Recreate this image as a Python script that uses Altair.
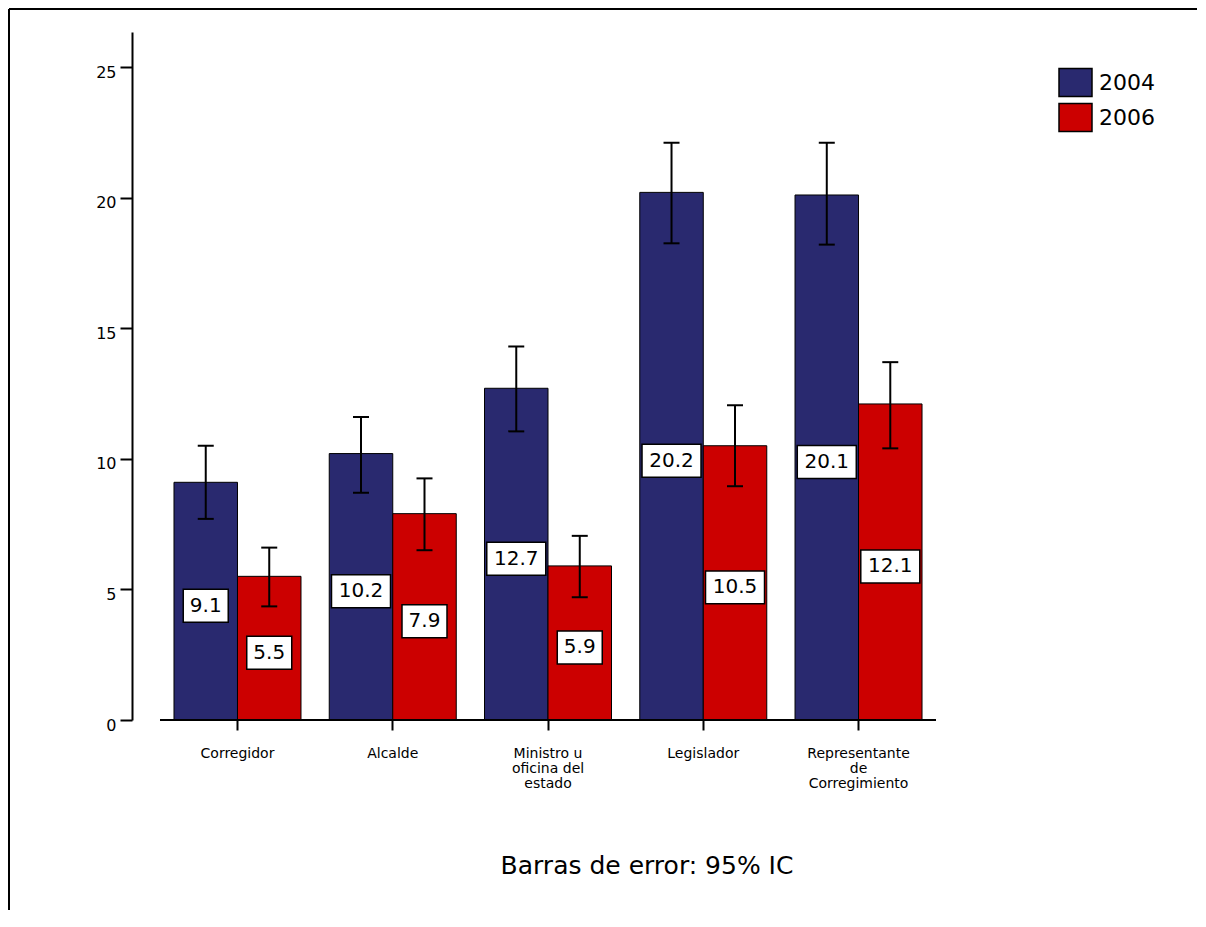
import altair as alt
import pandas as pd

categories = ["Corregidor", "Alcalde", "Ministro u\noficina del\nestado",
              "Legislador", "Representante\nde\nCorregimiento"]
years = ["2004", "2006"]
values_2004 = [9.1, 10.2, 12.7, 20.2, 20.1]
values_2006 = [5.5, 7.9, 5.9, 10.5, 12.1]
lower_2004 = [7.7, 8.7, 11.05, 18.25, 18.2]
upper_2004 = [10.5, 11.6, 14.3, 22.1, 22.1]
lower_2006 = [4.35, 6.5, 4.7, 8.95, 10.4]
upper_2006 = [6.6, 9.25, 7.05, 12.05, 13.7]
y_ticks = [0, 5, 10, 15, 20, 25]
footer = "Barras de error: 95% IC"
colors = ["#29296F", "#CC0000"]

rows = []
for yr, vals, los, his in [("2004", values_2004, lower_2004, upper_2004),
                           ("2006", values_2006, lower_2006, upper_2006)]:
    for c, v, lo, hi in zip(categories, vals, los, his):
        rows.append(dict(cargo=c, year=yr, value=v, lo=lo, hi=hi,
                         half=v / 2, label=f"{v:.1f}"))
df = pd.DataFrame(rows)

FONT = "DejaVu Sans"
W, H = 803, 688

x_axis = alt.Axis(title=None, domain=False, ticks=True, tickSize=10, tickWidth=2,
                  tickColor="black", labelAngle=0, labelFont=FONT, labelFontSize=14,
                  labelColor="black", labelLineHeight=15, labelPadding=16,
                  labelLimit=300, labelExpr="split(datum.label, '\\n')")
x_enc = alt.X("cargo:N", sort=categories, axis=x_axis,
              scale=alt.Scale(paddingInner=0.182, paddingOuter=0.177, align=0.764, round=False))
xo_enc = alt.XOffset("year:N", sort=years, scale=alt.Scale(paddingInner=0, paddingOuter=0))
y_axis = alt.Axis(title=None, values=y_ticks, grid=False, domainColor="black", domainWidth=2,
                  tickColor="black", tickWidth=2, tickSize=12, labelFont=FONT,
                  labelFontSize=16, labelColor="black", labelPadding=4, labelOffset=5)
y_scale = alt.Scale(domain=[0, 26.34], nice=False, zero=True)

base = alt.Chart(df)

legend_sym = "M-1,-0.85H1V0.85H-1Z"
bars = base.mark_bar(stroke="black", strokeWidth=1, opacity=1).encode(
    x=x_enc, xOffset=xo_enc,
    y=alt.Y("value:Q", scale=y_scale, axis=y_axis),
    color=alt.Color("year:N", scale=alt.Scale(domain=years, range=colors),
                    legend=alt.Legend(title=None, orient="none", legendX=926, legendY=33,
                                      symbolType=legend_sym, symbolSize=1089,
                                      symbolStrokeColor="black", symbolStrokeWidth=1.5,
                                      symbolOpacity=1, labelFont=FONT, labelFontSize=22,
                                      labelColor="black", rowPadding=-2, padding=0,
                                      labelOffset=6)),
)

err = base.mark_rule(color="black", strokeWidth=2).encode(
    x=x_enc, xOffset=xo_enc,
    y=alt.Y("lo:Q", scale=y_scale, axis=y_axis), y2="hi:Q")
cap_lo = base.mark_tick(color="black", size=16, thickness=2, opacity=1).encode(
    x=x_enc, xOffset=xo_enc, y=alt.Y("lo:Q", scale=y_scale, axis=y_axis))
cap_hi = base.mark_tick(color="black", size=16, thickness=2, opacity=1).encode(
    x=x_enc, xOffset=xo_enc, y=alt.Y("hi:Q", scale=y_scale, axis=y_axis))

box3 = "M-1,-0.733H1V0.733H-1Z"
box4 = "M-1,-0.559H1V0.559H-1Z"
boxes = base.mark_point(filled=True, fill="white", stroke="black", strokeWidth=1.5,
                        opacity=1, yOffset=4.5).encode(
    x=x_enc, xOffset=xo_enc, y=alt.Y("half:Q", scale=y_scale, axis=y_axis),
    shape=alt.condition("length(datum.label) > 3", alt.value(box4), alt.value(box3)),
    size=alt.condition("length(datum.label) > 3", alt.value(3481), alt.value(2025)),
)
texts = base.mark_text(font=FONT, fontSize=20, color="black", baseline="middle",
                       align="center", yOffset=4.5).encode(
    x=x_enc, xOffset=xo_enc, y=alt.Y("half:Q", scale=y_scale, axis=y_axis),
    text="label:N")

one = alt.Chart(pd.DataFrame({"t": [footer]}))
x_line = one.mark_rule(color="black", strokeWidth=2).encode(
    x=alt.value(28), x2=alt.value(804), y=alt.value(H))
frame_top = one.mark_rule(color="black", strokeWidth=2).encode(
    x=alt.value(-123), x2=alt.value(W + 262), y=alt.value(-23))
frame_left = one.mark_rule(color="black", strokeWidth=2).encode(
    x=alt.value(-123), y=alt.value(-23), y2=alt.value(H + 190))
foot = one.mark_text(font=FONT, fontSize=25, color="black", align="center",
                     baseline="alphabetic").encode(
    text="t:N", x=alt.value(515), y=alt.value(842))

chart = alt.layer(bars, err, cap_lo, cap_hi, boxes, texts, x_line, frame_top, frame_left, foot
).properties(
    width=W, height=H,
    view=alt.ViewBackground(stroke="transparent", strokeWidth=0, strokeOpacity=0),
    autosize=alt.AutoSizeParams(type="none"),
    padding={"left": 124, "top": 24, "right": 262, "bottom": 190},
).configure_view(stroke="transparent", strokeWidth=0, strokeOpacity=0).configure(background="white")

chart.save("out.html", embed_options={"renderer": "svg", "actions": False})
